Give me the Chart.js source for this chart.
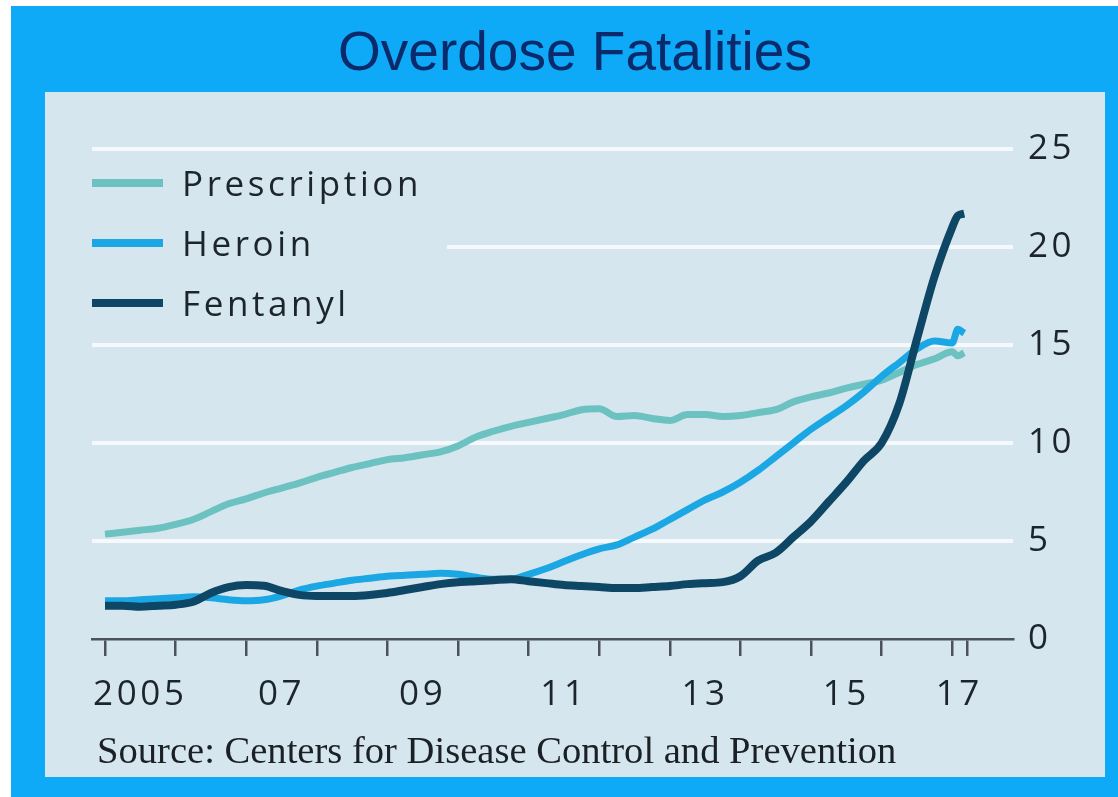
<!DOCTYPE html>
<html>
<head>
<meta charset="utf-8">
<title>Overdose Fatalities</title>
<script src="https://cdn.jsdelivr.net/npm/chart.js@4.4.1/dist/chart.umd.min.js"></script>
<style>
  html, body { margin: 0; padding: 0; background: #fff; }
  body { width: 1118px; height: 797px; position: relative; overflow: hidden; }
  #frame { position: absolute; left: 11px; top: 6px; width: 1107px; height: 791px; background: #0eaaf7; }
  #title { position: absolute; left: 45px; top: 24px; width: 1060px; text-align: center;
           font: 55px/55px "Liberation Sans", Arial, sans-serif; color: #0b2a6b; white-space: nowrap; }
  #panel { position: absolute; left: 45px; top: 92px; width: 1060px; height: 685px; background: #d6e6ee; }
  #panel canvas { position: absolute; left: 0; top: 0; }
  #source { position: absolute; left: 52px; top: 639px; font: 38.6px/38px "Liberation Serif", serif;
            color: #1b2026; white-space: nowrap; }
</style>
</head>
<body>
<div id="frame"></div>
<div id="title">Overdose Fatalities</div>
<div id="panel">
  <canvas id="overdose-chart" width="1060" height="685"></canvas>
  <div id="source">Source: Centers for Disease Control and Prevention</div>
</div>
<script>
// x values (years), quarterly
const years = [
  2005, 2005.25, 2005.5, 2005.75,
  2006, 2006.25, 2006.5, 2006.75,
  2007, 2007.25, 2007.5, 2007.75,
  2008, 2008.25, 2008.5, 2008.75,
  2009, 2009.25, 2009.5, 2009.75,
  2010, 2010.25, 2010.5, 2010.75,
  2011, 2011.25, 2011.5, 2011.75,
  2012, 2012.25, 2012.5, 2012.75,
  2013, 2013.25, 2013.5, 2013.75,
  2014, 2014.25, 2014.5, 2014.75,
  2015, 2015.25, 2015.5, 2015.75,
  2016, 2016.25, 2016.5, 2016.75,
  2017, 2017.08, 2017.17
];

const prescription = [
  5.35, 5.45, 5.55, 5.65,
  5.85, 6.1, 6.5, 6.9,
  7.15, 7.45, 7.7, 7.95,
  8.25, 8.5, 8.75, 8.95,
  9.15, 9.25, 9.4, 9.55,
  9.85, 10.3, 10.6, 10.85,
  11.05, 11.25, 11.45, 11.7,
  11.75, 11.35, 11.4, 11.25,
  11.15, 11.45, 11.45, 11.35,
  11.4, 11.55, 11.7, 12.1,
  12.35, 12.55, 12.8, 13.0,
  13.2, 13.6, 14.0, 14.3,
  14.65, 14.45, 14.6
];

const heroin = [
  1.95, 1.95, 2.0, 2.05,
  2.1, 2.15, 2.1, 2.0,
  1.95, 2.0, 2.2, 2.5,
  2.7, 2.85, 3.0, 3.1,
  3.2, 3.25, 3.3, 3.35,
  3.3, 3.15, 3.05, 3.05,
  3.3, 3.6, 3.95, 4.3,
  4.6, 4.8, 5.2, 5.6,
  6.1, 6.6, 7.1, 7.5,
  8.0, 8.6, 9.3, 10.0,
  10.7, 11.3, 11.9, 12.6,
  13.4, 14.1, 14.8, 15.2,
  15.1, 15.8, 15.6
];

const fentanyl = [
  1.7, 1.7, 1.65, 1.7,
  1.75, 1.9, 2.35, 2.65,
  2.75, 2.72, 2.45, 2.25,
  2.2, 2.2, 2.2, 2.25,
  2.35, 2.5, 2.65, 2.8,
  2.9, 2.95, 3.0, 3.05,
  2.95, 2.85, 2.75, 2.7,
  2.65, 2.6, 2.6, 2.65,
  2.7, 2.8, 2.85, 2.9,
  3.2, 4.0, 4.4, 5.2,
  6.0, 7.0, 8.0, 9.1,
  10.0, 12.0, 15.3, 18.5,
  21.0, 21.6, 21.7
];

const seriesNames = ['Prescription', 'Heroin', 'Fentanyl'];

// tick marks sit on year boundaries, labels sit mid-year
const yearTicks = [2005, 2006, 2007, 2008, 2009, 2010, 2011, 2012, 2013, 2014, 2015, 2016, 2017, 2017.21];
const labelYears = [2005.5, 2007.5, 2009.5, 2011.5, 2013.5, 2015.5, 2017.1];
const tickLabels = ['2005', '07', '09', '11', '13', '15', '17'];
const yTicks = [0, 5, 10, 15, 20, 25];

const xMin = 2004.816;
const xMax = 2017.861;
const panelBg = '#d6e6ee';
const inkColor = '#1c252c';
const axisColor = '#4a535a';
const spacing = '3.6px';
const labelFont = '35px "Open Sans"';

function points(values) {
    return years.map((x, i) => ({ x: x, y: values[i] }));
}

// legend drawn inside the plot area, plus letter spacing for all canvas text
const insideLegend = {
    id: 'insideLegend',
    beforeLayout(chart) { chart.ctx.letterSpacing = spacing; },
    beforeDraw(chart) { chart.ctx.letterSpacing = spacing; },
    beforeDatasetsDraw(chart) {
        const ctx = chart.ctx;
        const area = chart.chartArea;
        ctx.save();
        // cover the gridline behind the legend
        ctx.fillStyle = panelBg;
        ctx.fillRect(area.left - 2, area.top + 15, 357, 170);
        ctx.font = labelFont;
        ctx.textBaseline = 'alphabetic';
        ctx.textAlign = 'left';
        chart.data.datasets.forEach(function(ds, i) {
            const y = area.top + 34 + i * 60;
            ctx.strokeStyle = ds.borderColor;
            ctx.lineWidth = 8;
            ctx.lineCap = 'butt';
            ctx.beginPath();
            ctx.moveTo(area.left, y);
            ctx.lineTo(area.left + 71, y);
            ctx.stroke();
            ctx.fillStyle = inkColor;
            ctx.fillText(ds.label, area.left + 90, y + 12.5);
        });
        ctx.restore();
    }
};

function draw() {
    Chart.defaults.font.family = '"Open Sans"';
    const ctx = document.getElementById('overdose-chart').getContext('2d');
    new Chart(ctx, {
        type: 'line',
        data: {
            datasets: [
                {
                    label: seriesNames[0],
                    data: points(prescription),
                    borderColor: '#6cc2c0',
                    borderWidth: 7,
                    order: 2
                },
                {
                    label: seriesNames[1],
                    data: points(heroin),
                    borderColor: '#1ba7e4',
                    borderWidth: 7,
                    order: 1
                },
                {
                    label: seriesNames[2],
                    data: points(fentanyl),
                    borderColor: '#0d4765',
                    borderWidth: 8,
                    order: 0
                }
            ]
        },
        options: {
            responsive: false,
            animation: false,
            devicePixelRatio: 1,
            layout: { padding: { left: 47, top: 57, right: 0, bottom: 0 } },
            elements: {
                point: { radius: 0 },
                line: { cubicInterpolationMode: 'monotone', borderCapStyle: 'butt', borderJoinStyle: 'round', fill: false }
            },
            plugins: {
                legend: { display: false },
                tooltip: { enabled: false },
                title: { display: false }
            },
            scales: {
                x: {
                    type: 'linear',
                    position: 'bottom',
                    min: xMin,
                    max: xMax,
                    afterBuildTicks: function(scale) {
                        scale.ticks = yearTicks.map(v => ({ value: v }));
                    },
                    afterFit: function(scale) { scale.height = 17; },
                    grid: {
                        drawOnChartArea: false,
                        drawTicks: true,
                        tickLength: 17,
                        color: axisColor,
                        lineWidth: 2.5
                    },
                    border: { display: true, color: axisColor, width: 2.5 },
                    ticks: { display: false }
                },
                xLabels: {
                    type: 'linear',
                    position: 'bottom',
                    min: xMin,
                    max: xMax,
                    afterBuildTicks: function(scale) {
                        scale.ticks = labelYears.map(v => ({ value: v }));
                    },
                    afterFit: function(scale) { scale.height = 121; },
                    grid: { display: false },
                    border: { display: false },
                    ticks: {
                        autoSkip: false,
                        maxRotation: 0,
                        padding: 10,
                        color: inkColor,
                        font: { size: 35 },
                        callback: function(value, index) { return tickLabels[index]; }
                    }
                },
                y: {
                    position: 'right',
                    min: 0,
                    max: 25,
                    afterBuildTicks: function(scale) {
                        scale.ticks = yTicks.map(v => ({ value: v }));
                    },
                    afterFit: function(scale) { scale.width = 92; },
                    grid: {
                        drawTicks: false,
                        lineWidth: 4,
                        color: c => c.tick && c.tick.value === 0 ? 'rgba(0,0,0,0)' : '#f6f9fb'
                    },
                    border: { display: false },
                    ticks: {
                        padding: 15,
                        color: inkColor,
                        font: { size: 35 }
                    }
                }
            }
        },
        plugins: [insideLegend]
    });
}

Promise.all([
    document.fonts.load(labelFont),
    document.fonts.load('38px "Liberation Serif"'),
    document.fonts.load('55px "Liberation Sans"')
]).then(draw, draw);
</script>
</body>
</html>
